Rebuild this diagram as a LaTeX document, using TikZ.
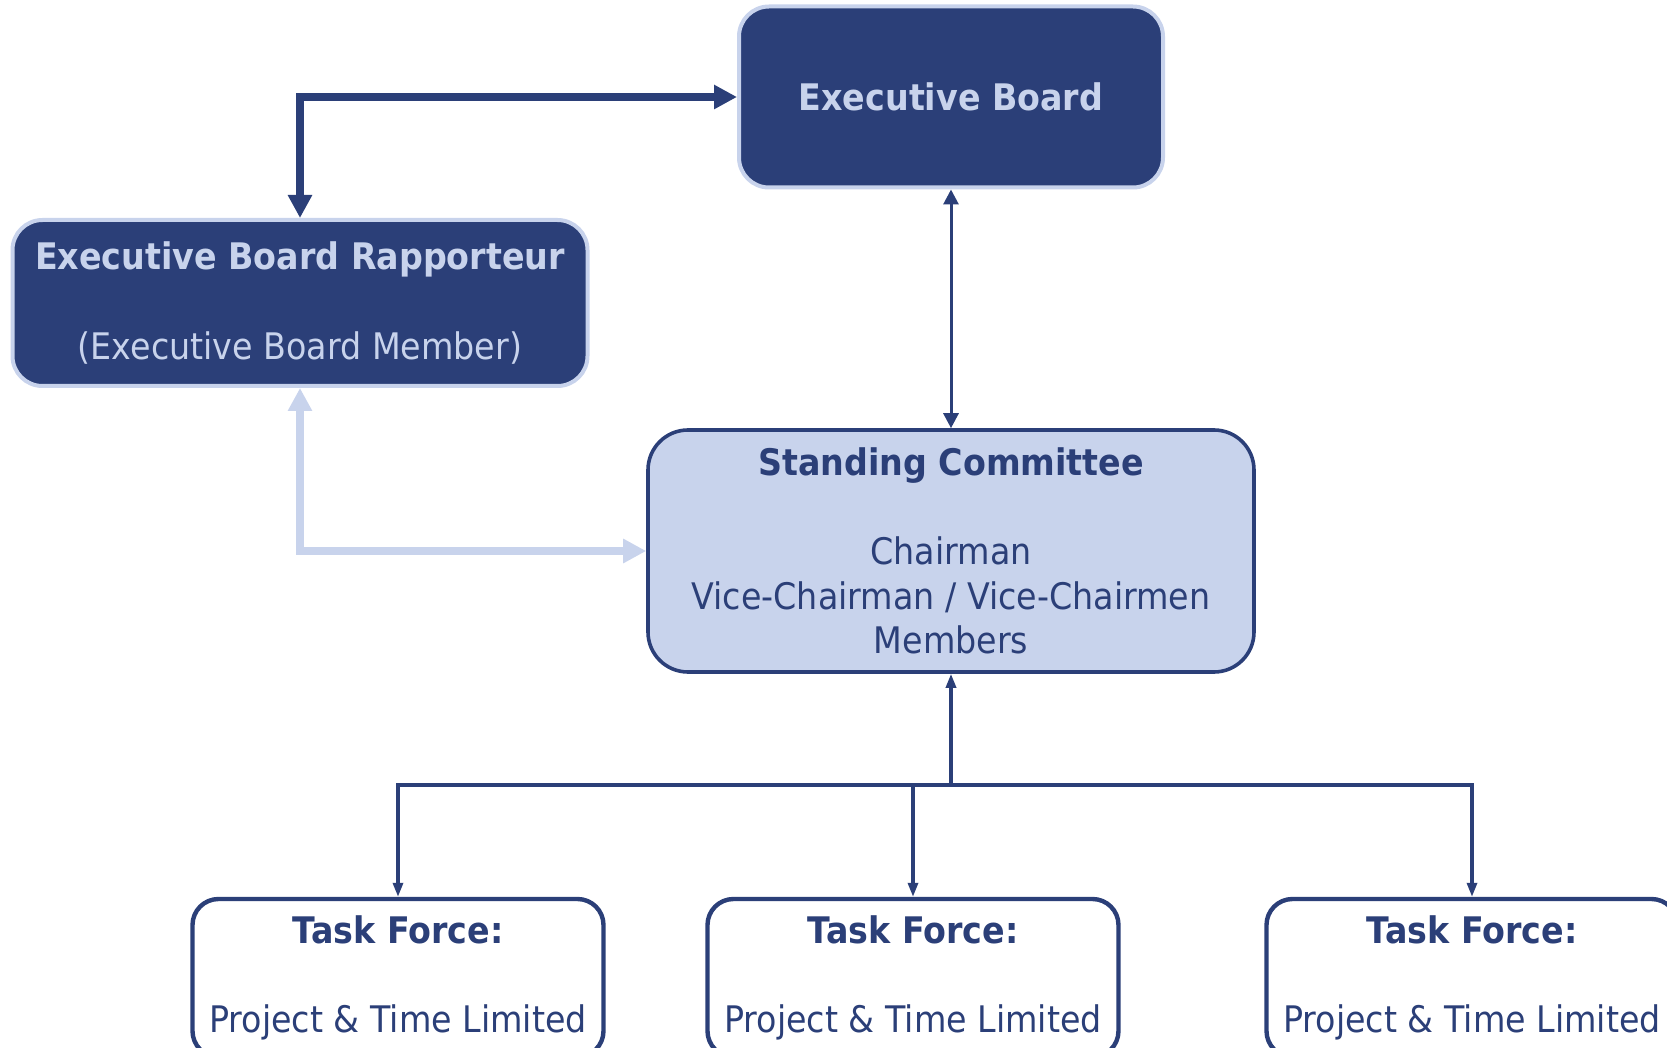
\documentclass[tikz,border=0pt]{standalone}
\usepackage{fontspec}
\setmainfont{DejaVu Sans}[FakeStretch=0.91]
\usetikzlibrary{arrows.meta, positioning}
\definecolor{navy}{RGB}{43,63,120}
\definecolor{pale}{RGB}{200,211,236}
\newcommand{\boxfont}{\fontsize{18.3}{22.3}\selectfont}

\tikzset{
  darkbox/.style={draw=pale, line width=2pt, fill=navy, text=pale, rounded corners=15pt,
    align=center, inner sep=0pt, font=\boxfont},
  palebox/.style={draw=navy, line width=1.8pt, fill=pale, text=navy, rounded corners=20pt,
    align=center, inner sep=0pt, font=\boxfont},
  taskbox/.style={draw=navy, line width=2.2pt, fill=white, text=navy, rounded corners=13pt,
    align=center, inner sep=0pt, font=\boxfont, minimum width=205.5pt, minimum height=79pt},
  bigarrow/.style={line width=4pt, {Triangle[length=11.5pt,width=11.5pt]}-{Triangle[length=11.5pt,width=11.5pt]}},
  midarrow/.style={navy, line width=1.5pt, {Triangle[length=7.5pt,width=7.5pt]}-{Triangle[length=7.5pt,width=7.5pt]}},
  treeline/.style={navy, line width=1.6pt},
  treetip/.style={-{Triangle[length=7pt,width=5pt]}}
}

\begin{document}
\begin{tikzpicture}[x=0.5pt, y=-0.5pt]
    \useasboundingbox (0,0) rectangle (1667,1048);
    \clip (0,0) rectangle (1667,1048);

    % boxes
    \node[darkbox, minimum width=212pt, minimum height=90.5pt] (board) at (951,97)
        {\textbf{Executive Board}};
    \node[darkbox, minimum width=287.5pt, minimum height=83pt] (rapp) at (300,303)
        {\textbf{Executive Board Rapporteur}\\[22.3pt](Executive Board Member)};
    \node[palebox, minimum width=303pt, minimum height=121pt] (standing) at (951,551)
        {\textbf{Standing Committee}\\[22.3pt]Chairman\\Vice-Chairman / Vice-Chairmen\\Members};
    \node[taskbox] (task1) at (398,978) {\textbf{Task Force:}\\[22.3pt]Project \& Time Limited};
    \node[taskbox] (task2) at (913,978) {\textbf{Task Force:}\\[22.3pt]Project \& Time Limited};
    \node[taskbox] (task3) at (1472,978) {\textbf{Task Force:}\\[22.3pt]Project \& Time Limited};

    % links
    \draw[bigarrow, navy] (rapp.north) |- (board.west);
    \draw[bigarrow, pale] (rapp.south) |- (standing.west);
    \draw[midarrow] (board.south) -- (standing.north);

    \coordinate (hub) at (951,785);
    \draw[treeline, {Triangle[length=7pt,width=5pt]}-] (standing.south) -- (hub);
    \draw[treeline, treetip] (hub) -| (task1.north);
    \draw[treeline, treetip] (hub) -| (task2.north);
    \draw[treeline, treetip] (hub) -| (task3.north);
\end{tikzpicture}
\end{document}
